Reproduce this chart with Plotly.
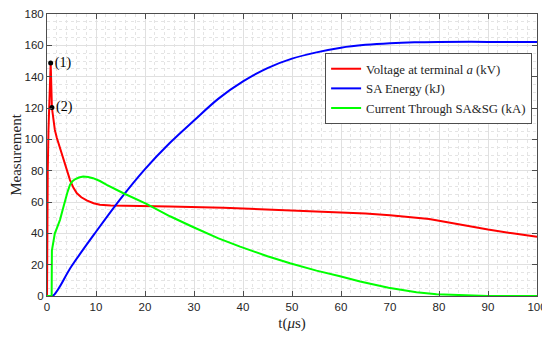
import plotly.graph_objects as go

# Voltage at terminal a (kV)
t_v = [0, 0.05, 0.15, 0.3, 0.5, 0.75, 1.0, 1.3, 1.6, 2.0, 2.4, 2.8, 3.3, 4.0, 4.7, 5.4, 6.1, 7.0, 8.1, 9.5, 10.8, 13, 15, 19, 25, 30, 36, 43.5, 50, 55, 60, 65, 70, 75, 78, 80, 83, 86, 90, 95, 100]
v_v = [0, 40, 80, 106, 130, 148.7, 120.3, 112, 106, 101, 97, 93, 88, 81, 74, 69, 65.6, 63, 61, 59.2, 58.3, 57.8, 57.6, 57.5, 57.2, 56.9, 56.3, 55.4, 54.6, 54.0, 53.4, 52.6, 51.6, 50.3, 49.1, 48.0, 46.2, 44.5, 42.4, 40.0, 37.8]

# SA Energy (kJ)
t_e = [0, 1.15, 5, 10, 15, 20, 25, 30, 35, 40, 45, 50, 55, 60, 65, 70, 75, 80, 90, 100]
v_e = [0, 0, 19, 41, 62, 81, 97.5, 112, 126, 137, 145.5, 151.5, 155.5, 158.5, 160.3, 161.4, 162.0, 162.2, 162.2, 162.2]

# Current Through SA&SG (kA)
t_c = [0, 0.6, 0.95, 1.0, 1.3, 1.6, 2.1, 2.65, 3.2, 3.7, 4.2, 4.7, 5.2, 5.7, 6.5, 7.4, 8.4, 9.4, 10.8, 12.2, 15.6, 20.3, 23.1, 25.1, 29.9, 35, 39.4, 45, 49.6, 55, 59.8, 63.9, 69.7, 75.4, 79.5, 85.6, 90, 100]
v_c = [0, 0, 0, 29, 36, 40, 44, 48.6, 55, 61, 66.5, 71, 73.3, 74.5, 75.6, 76.2, 76.0, 75.2, 73.4, 71, 65.6, 58.8, 54.1, 50.9, 43.9, 36.8, 31.5, 25.4, 20.9, 16.2, 12.6, 9.3, 5.3, 2.4, 1.1, 0.2, 0, 0]

# Marked points
pt_t = [0.75, 1.0]
pt_v = [148.7, 120.3]
pt_lbl = ["(1)", "(2)"]

x_ticks = [0, 10, 20, 30, 40, 50, 60, 70, 80, 90, 100]
y_ticks = [0, 20, 40, 60, 80, 100, 120, 140, 160, 180]

serif = "Liberation Serif, Times New Roman, serif"
sans = "Liberation Sans, Arial, sans-serif"

fig = go.Figure()
fig.add_trace(go.Scatter(x=t_v, y=v_v, mode="lines", line=dict(color="#ff0000", width=2),
                         name="Voltage at terminal <i>a</i> (kV)"))
fig.add_trace(go.Scatter(x=t_e, y=v_e, mode="lines", line=dict(color="#0000ff", width=2, shape="spline", smoothing=1),
                         name="SA Energy (kJ)"))
fig.add_trace(go.Scatter(x=t_c, y=v_c, mode="lines", line=dict(color="#00ff00", width=2),
                         name="Current Through SA&SG (kA)"))
fig.add_trace(go.Scatter(x=pt_t, y=pt_v, mode="markers+text", marker=dict(color="black", size=5),
                         text=pt_lbl, textposition="middle right",
                         textfont=dict(family=serif, size=14, color="black"),
                         showlegend=False))

axis_common = dict(
    showline=True, linecolor="#4d4d4d", linewidth=1, mirror="ticks",
    ticks="inside", ticklen=5, tickcolor="#4d4d4d",
    showgrid=True, gridcolor="#e0e0e0", gridwidth=1,
    zeroline=False, automargin=False, ticklabeloverflow="allow",
    tickfont=dict(family=sans, size=11.5, color="#262626"),
)

fig.update_xaxes(range=[0, 100], tickvals=x_ticks,
                 minor=dict(dtick=2, showgrid=True, gridcolor="#e4e4e4", griddash="dot", ticks=""),
                 title=dict(text="t(<i>μ</i>s)", font=dict(family=serif, size=15, color="#262626"), standoff=5),
                 **axis_common)
fig.update_yaxes(range=[0, 180], tickvals=y_ticks,
                 minor=dict(dtick=5, showgrid=True, gridcolor="#e4e4e4", griddash="dot", ticks=""),
                 title=dict(text="Measurement", font=dict(family=serif, size=15, color="#262626"), standoff=6),
                 **axis_common)

fig.update_layout(
    width=542, height=332,
    margin=dict(l=39, r=13, t=6, b=44),
    paper_bgcolor="white", plot_bgcolor="white",
    legend=dict(x=0.99, y=0.862, xanchor="right", yanchor="top",
                bgcolor="white", bordercolor="#4d4d4d", borderwidth=1,
                font=dict(family=serif, size=12.8, color="#262626"),
                tracegroupgap=0, itemwidth=30),
    showlegend=True,
)

fig.write_html("out.html")
